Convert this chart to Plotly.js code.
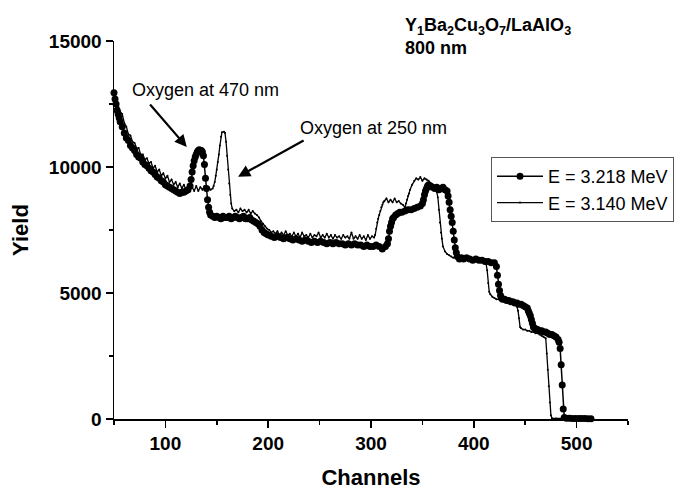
<!DOCTYPE html>
<html>
<head>
<meta charset="utf-8">
<script src="https://cdn.plot.ly/plotly-3.0.1.min.js"></script>
<style>html,body{margin:0;padding:0;background:#fff;}#chart{width:692px;height:490px;}</style>
</head>
<body>
<div id="chart"></div>
<script>
// Series 1: E = 3.218 MeV (line with dots)
var chA_x = [
  50,51,52,53,54,55,56,58,60,62,
  64,66,68,70,72,74,76,78,80,82,
  84,86,88,90,92,94,96,98,100,102,
  104,106,108,110,112,114,116,118,120,122,
  124,125,126,127,128,129,130,131,132,133,
  134,135,136,137,138,139,140,141,142,143,
  144,146,148,150,152,154,156,158,160,162,
  164,166,168,170,172,174,176,178,180,182,
  184,186,188,190,192,194,196,198,200,203,
  206,209,212,215,218,221,224,227,230,233,
  236,239,242,245,248,251,254,257,260,263,
  266,269,272,275,278,281,284,287,290,293,
  296,299,302,305,308,311,314,316,317,318,
  319,320,321,322,324,326,328,330,333,336,
  339,342,345,348,350,351,352,353,354,355,
  356,358,360,362,364,366,368,370,372,374,
  375,376,377,378,379,380,381,382,383,384,
  386,388,390,393,396,399,402,405,408,411,
  414,417,420,422,423,424,425,426,427,428,
  430,432,434,436,438,440,442,444,446,448,
  450,452,453,454,455,456,457,458,459,460,
  462,464,466,468,470,472,474,476,478,480,
  482,483,484,485,486,487,488,490,493,496,
  499,502,505,508,511,514
];
var chA_y = [
  12950,12700,12500,12250,12100,11950,11800,11600,11350,11150,
  11050,10850,10750,10650,10500,10400,10350,10200,10100,10050,
  9950,9850,9800,9700,9600,9550,9450,9400,9300,9250,
  9200,9150,9100,9050,9000,8950,9000,9000,9050,9100,
  9250,9500,9800,10050,10250,10400,10500,10600,10650,10680,
  10650,10650,10600,10450,10100,9550,9150,8700,8400,8200,
  8100,8050,8000,8050,8000,7950,8050,8000,8000,8050,
  7950,8000,8050,8000,7950,8000,8050,7950,7950,8000,
  7900,7850,7800,7750,7650,7500,7400,7350,7300,7250,
  7200,7250,7200,7150,7200,7150,7100,7150,7100,7050,
  7100,7050,7000,7050,7000,7050,7000,6950,7000,6950,
  7000,6950,6950,6900,6950,6900,6950,6900,6900,6850,
  6900,6850,6850,6900,6850,6750,6850,6950,7150,7450,
  7650,7800,7950,8000,8100,8150,8200,8200,8250,8300,
  8300,8350,8400,8450,8550,8700,8900,9050,9150,9250,
  9300,9250,9200,9150,9200,9100,9150,9200,9100,9050,
  8850,8600,8300,8050,7800,7450,7100,6800,6600,6450,
  6350,6400,6350,6400,6350,6300,6350,6300,6300,6250,
  6250,6200,6200,6050,5700,5350,5100,4900,4800,4750,
  4750,4700,4700,4650,4650,4600,4600,4550,4550,4500,
  4450,4400,4300,4200,4100,3950,3800,3650,3600,3580,
  3550,3500,3500,3450,3450,3400,3350,3350,3300,3250,
  3150,3050,2800,2150,1350,400,60,30,30,20,
  20,20,15,15,10,10
];

// Series 2: E = 3.140 MeV (thin line)
var chB_x = [
  50,52,54,56,58,60,62,64,66,68,
  70,72,74,76,78,80,82,84,86,88,
  90,92,94,96,98,100,102,104,106,108,
  110,112,114,116,118,120,122,124,126,128,
  130,132,134,136,138,140,142,144,146,147,
  148,149,150,151,152,153,154,155,157,158,
  159,160,161,162,163,164,165,167,169,171,
  173,175,177,179,181,183,185,187,189,191,
  193,195,197,199,201,203,205,207,209,211,
  213,215,217,219,221,223,225,227,229,231,
  233,235,237,239,241,243,245,247,249,251,
  253,255,257,259,261,263,265,267,269,271,
  273,275,277,279,281,283,285,287,289,291,
  293,295,297,299,301,303,304,305,306,307,
  308,309,310,311,312,313,315,317,319,321,
  323,325,327,329,331,333,334,335,336,337,
  338,340,342,344,346,348,350,352,354,356,
  358,360,362,364,365,366,367,368,369,370,
  372,374,376,378,380,382,384,386,388,390,
  392,394,396,398,400,402,404,406,408,410,
  412,413,414,415,416,418,420,422,424,426,
  428,430,432,434,436,438,440,442,443,444,
  445,446,448,450,452,454,456,458,460,462,
  464,466,468,470,471,472,473,474,475,476,
  480,485,490,495,500,505,510,513
];
var chB_y = [
  13000,12600,12450,12200,12100,11750,11600,11300,11250,11000,
  10950,10750,10750,10500,10500,10300,10350,10150,10200,9950,
  10050,9800,9900,9650,9750,9550,9650,9400,9500,9300,
  9400,9200,9350,9150,9300,9100,9250,9100,9200,9050,
  9250,9050,9200,9100,9250,9050,9200,9100,9150,9250,
  9400,9650,9900,10200,10500,10850,11200,11380,11400,11350,
  11000,10450,9900,9350,8900,8550,8350,8250,8300,8200,
  8350,8250,8300,8200,8300,8150,8250,8150,8100,8000,
  7850,7750,7650,7550,7500,7400,7450,7350,7450,7300,
  7400,7300,7450,7300,7350,7250,7400,7250,7350,7200,
  7400,7250,7300,7200,7350,7200,7300,7250,7400,7200,
  7300,7200,7350,7200,7300,7150,7300,7200,7250,7150,
  7300,7200,7250,7150,7400,7150,7250,7150,7300,7150,
  7250,7100,7300,7150,7250,7200,7300,7550,7800,7950,
  8100,8250,8400,8500,8600,8650,8750,8600,8700,8600,
  8750,8600,8650,8550,8500,8400,8550,8700,8850,8950,
  9100,9300,9450,9550,9500,9600,9450,9550,9500,9450,
  9350,9300,9200,9000,8800,8300,7800,7400,7150,6850,
  6650,6550,6500,6450,6400,6450,6350,6450,6350,6400,
  6350,6400,6300,6400,6300,6350,6250,6300,6250,6250,
  6150,5900,5400,5050,4950,4850,4800,4750,4750,4700,
  4700,4650,4700,4650,4600,4600,4550,4450,4300,4000,
  3650,3600,3550,3550,3500,3500,3450,3450,3400,3400,
  3350,3300,3250,3200,2600,1950,1300,650,150,30,
  20,20,15,15,10,10,10,10
];

var seriesNames = ['E = 3.218 MeV', 'E = 3.140 MeV'];
var titleText = '<b>Y<sub>1</sub>Ba<sub>2</sub>Cu<sub>3</sub>O<sub>7</sub>/LaAlO<sub>3</sub><br>800 nm</b>';
var noteTexts = ['Oxygen at 470 nm', 'Oxygen at 250 nm'];

var FONT = 'Liberation Sans, Arial, Helvetica, sans-serif';

var traces = [
  {
    x: chA_x, y: chA_y, name: seriesNames[0], type: 'scatter', mode: 'lines+markers',
    line: {color: '#000', width: 1.5},
    marker: {color: '#000', size: 7, symbol: 'circle'},
    cliponaxis: false
  },
  {
    x: chB_x, y: chB_y, name: seriesNames[1], type: 'scatter', mode: 'lines+markers',
    line: {color: '#000', width: 1.3},
    marker: {color: '#000', size: 2, symbol: 'circle'},
    cliponaxis: false
  }
];

var layout = {
  width: 692, height: 490,
  margin: {l: 114, r: 64, t: 41, b: 71},
  paper_bgcolor: '#fff', plot_bgcolor: '#fff',
  font: {family: FONT, color: '#000'},
  showlegend: true,
  xaxis: {
    range: [50, 550], tick0: 0, dtick: 100, tickformat: 'd',
    ticks: 'outside', ticklen: 7, tickwidth: 1.5, tickcolor: '#000',
    showline: true, linecolor: '#000', linewidth: 1.5,
    showgrid: false, zeroline: false, mirror: false,
    tickfont: {family: FONT, size: 19, weight: 'bold', color: '#000'},
    minor: {dtick: 50, tick0: 0, ticks: 'outside', ticklen: 4, tickwidth: 1.5, tickcolor: '#000', showgrid: false},
    title: {text: '<b>Channels</b>', font: {family: FONT, size: 22, color: '#000'}, standoff: 16}
  },
  yaxis: {
    range: [0, 15000], tick0: 0, dtick: 5000, tickformat: 'd',
    ticks: 'outside', ticklen: 7, tickwidth: 1.5, tickcolor: '#000',
    showline: true, linecolor: '#000', linewidth: 1.5,
    showgrid: false, zeroline: false, mirror: false,
    tickfont: {family: FONT, size: 19, weight: 'bold', color: '#000'},
    minor: {dtick: 2500, tick0: 0, ticks: 'outside', ticklen: 4, tickwidth: 1.5, tickcolor: '#000', showgrid: false},
    title: {text: '<b>Yield</b>', font: {family: FONT, size: 22, color: '#000'}, standoff: 14}
  },
  legend: {
    x: (491 - 114) / 514, xanchor: 'left',
    y: (419 - 157) / 378, yanchor: 'top',
    bgcolor: '#fff', bordercolor: '#555', borderwidth: 1,
    font: {family: FONT, size: 18, color: '#000'},
    itemwidth: 46,
    tracegroupgap: 0
  },
  annotations: [
    {text: titleText, xref: 'paper', yref: 'paper', x: (403 - 114) / 514, y: (419 - 13) / 378,
     xanchor: 'left', yanchor: 'top', align: 'left', showarrow: false,
     font: {family: FONT, size: 18, color: '#000'}},
    {text: noteTexts[0], xref: 'x', yref: 'y', x: 65.3, y: 13055, xanchor: 'left', yanchor: 'middle',
     showarrow: false, font: {family: FONT, size: 18, color: '#000'}},
    {text: noteTexts[1], xref: 'x', yref: 'y', x: 228.9, y: 11547, xanchor: 'left', yanchor: 'middle',
     showarrow: false, font: {family: FONT, size: 18, color: '#000'}},
    {text: '', xref: 'x', yref: 'y', x: 120.8, y: 10793, ax: -38, ay: -44,
     showarrow: true, arrowhead: 2, arrowsize: 1.1, arrowwidth: 2.2, arrowcolor: '#000'},
    {text: '', xref: 'x', yref: 'y', x: 170.7, y: 9614, ax: 67, ay: -37,
     showarrow: true, arrowhead: 2, arrowsize: 1.1, arrowwidth: 2.2, arrowcolor: '#000'}
  ]
};

Plotly.newPlot('chart', traces, layout, {displayModeBar: false, staticPlot: true});
</script>
</body>
</html>
